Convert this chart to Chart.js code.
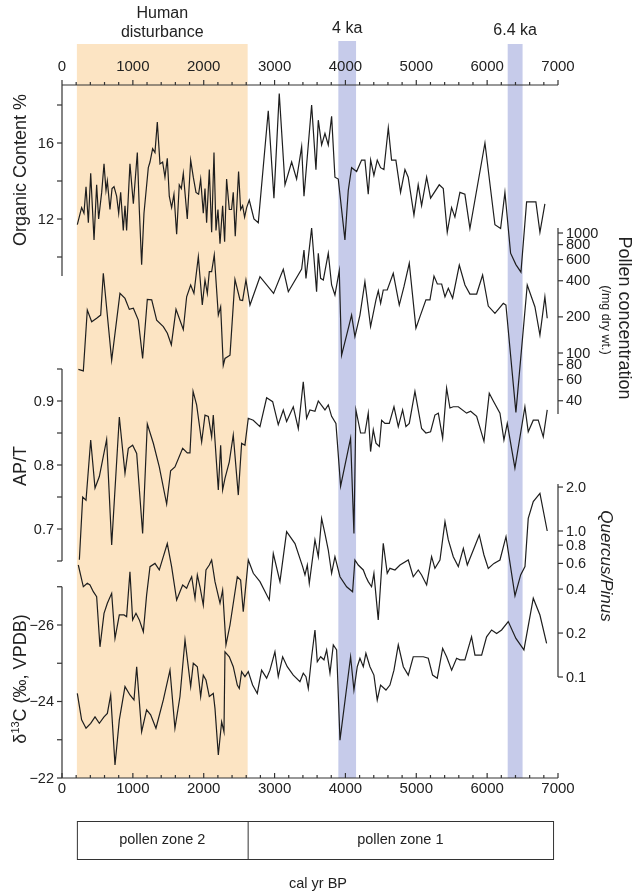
<!DOCTYPE html>
<html><head><meta charset="utf-8">
<script src="https://cdn.jsdelivr.net/npm/chart.js@4.4.1/dist/chart.umd.min.js"></script>
<style>html,body{margin:0;padding:0;background:#fff}canvas{display:block}</style>
</head><body>
<canvas id="c" width="633" height="892"></canvas>
<script>
// ---------------- DATA ----------------
const orgAge = [216,277,310,339,372,405,452,489,517,560,593,621,640,677,706,734,771,800,828,865,889,912,959,1007,1063,1091,1124,1157,1218,1242,1279,1312,1345,1383,1420,1453,1486,1514,1547,1580,1618,1655,1684,1712,1768,1816,1853,1891,1928,1957,1994,2018,2041,2079,2112,2145,2173,2201,2230,2267,2295,2323,2361,2393,2417,2445,2492,2521,2549,2577,2606,2643,2676,2709,2770,2911,2991,3066,3147,3241,3311,3382,3415,3523,3584,3617,3664,3711,3758,3805,3852,3899,3993,4040,4087,4158,4228,4275,4322,4356,4402,4449,4496,4543,4605,4651,4712,4778,4840,4886,4967,5027,5075,5146,5202,5324,5381,5437,5498,5545,5616,5686,5757,5969,6110,6190,6251,6331,6406,6477,6557,6688,6745,6815];
const orgVal = [11.7,12.6,12.3,13.7,11.8,14.4,10.9,13.8,12.0,13.4,14.9,13.5,14.0,12.5,13.6,13.7,13.2,12.3,13.4,11.4,12.7,11.4,14.9,12.8,15.5,12.5,9.6,12.3,14.7,15.0,15.7,15.5,17.1,14.9,15.0,14.2,15.2,13.2,12.6,13.3,11.2,13.8,13.6,14.4,12.0,15.1,14.2,13.4,13.3,14.1,12.3,13.6,11.8,14.6,11.3,15.5,11.4,12.5,10.7,12.7,10.8,14.1,12.5,12.5,13.4,11.1,14.5,12.5,12.7,12.1,12.6,13.0,12.5,12.0,11.8,17.7,13.1,18.6,13.8,15.0,14.1,15.8,13.2,18.0,14.6,17.2,15.9,16.5,15.9,17.4,14.2,14.1,10.9,13.5,14.7,14.5,15.1,15.1,13.3,15.1,14.3,15.1,14.7,14.6,16.8,15.1,15.1,13.4,14.6,14.2,12.2,13.8,12.7,14.2,13.1,13.8,13.6,11.3,12.6,12.1,13.4,13.3,11.5,16.0,11.7,11.5,13.4,10.2,9.6,9.2,12.9,12.9,11.3,12.8];

const polAge = [231,301,357,419,489,546,583,701,818,889,950,1007,1077,1138,1204,1266,1336,1430,1487,1543,1609,1712,1759,1816,1862,1924,1980,2018,2051,2079,2112,2149,2206,2239,2276,2300,2371,2441,2512,2549,2596,2653,2794,2986,3123,3194,3382,3415,3443,3523,3593,3617,3650,3688,3758,3805,3852,3913,3946,4017,4087,4134,4205,4275,4355,4431,4464,4497,4534,4590,4675,4760,4826,4901,4995,5052,5136,5193,5250,5297,5358,5405,5452,5513,5607,5687,5757,5852,5936,6016,6110,6228,6265,6406,6566,6674,6745,6815,6848];
const polVal = [73,71,228,182,195,207,462,87,314,285,231,236,188,90,280,277,188,166,146,117,231,157,294,369,314,635,251,406,314,476,476,656,207,243,79,90,96,411,277,274,406,251,432,314,498,324,500,722,419,1100,324,678,419,406,678,369,304,485,96,141,207,137,207,393,166,277,330,259,335,335,461,251,357,559,161,201,277,277,438,376,376,294,346,286,541,369,310,310,447,246,214,259,251,32,369,243,141,294,195];

const aptAge = [245,292,339,405,466,527,630,701,809,889,936,997,1054,1138,1204,1289,1373,1477,1533,1594,1703,1768,1806,1850,1900,1971,2018,2065,2112,2135,2206,2239,2267,2300,2361,2417,2488,2535,2582,2629,2699,2794,2888,2973,3052,3123,3170,3264,3335,3405,3452,3499,3570,3617,3711,3758,3805,3866,3932,4073,4120,4148,4214,4275,4322,4355,4393,4431,4478,4511,4558,4619,4685,4746,4807,4854,4901,4981,5075,5136,5202,5263,5311,5372,5428,5475,5522,5593,5710,5767,5852,5955,6030,6087,6181,6237,6284,6392,6533,6580,6651,6721,6792,6848];
const aptVal = [0.652,0.750,0.745,0.839,0.764,0.782,0.840,0.675,0.875,0.787,0.826,0.831,0.818,0.693,0.864,0.834,0.797,0.739,0.791,0.797,0.826,0.819,0.819,0.915,0.894,0.836,0.878,0.876,0.844,0.878,0.761,0.831,0.761,0.779,0.805,0.847,0.753,0.834,0.831,0.873,0.870,0.860,0.905,0.899,0.863,0.886,0.868,0.891,0.857,0.930,0.873,0.886,0.884,0.900,0.886,0.894,0.876,0.865,0.767,0.842,0.693,0.886,0.850,0.850,0.881,0.821,0.855,0.834,0.829,0.870,0.865,0.865,0.891,0.860,0.886,0.860,0.865,0.915,0.857,0.850,0.852,0.878,0.881,0.842,0.920,0.889,0.891,0.891,0.881,0.884,0.876,0.837,0.912,0.900,0.881,0.839,0.865,0.795,0.891,0.852,0.870,0.870,0.844,0.886];

const qpAge = [230,301,357,395,442,489,536,593,640,701,748,809,875,912,959,997,1044,1091,1148,1194,1242,1312,1373,1486,1547,1618,1703,1759,1797,1830,1877,1910,1947,1994,2032,2079,2112,2159,2230,2267,2314,2371,2474,2521,2558,2629,2700,2794,2925,2982,3076,3170,3288,3396,3429,3462,3490,3570,3617,3664,3711,3758,3805,3852,3923,4017,4101,4134,4181,4252,4289,4322,4369,4402,4463,4534,4590,4628,4699,4770,4887,4957,5028,5075,5146,5216,5263,5334,5405,5452,5522,5593,5664,5720,5805,5889,5955,6016,6096,6181,6266,6393,6473,6534,6580,6651,6745,6848];
const qpVal = [0.585,0.415,0.438,0.427,0.384,0.355,0.161,0.273,0.32,0.374,0.184,0.266,0.266,0.259,0.526,0.246,0.273,0.246,0.204,0.364,0.57,0.6,0.541,0.82,0.57,0.337,0.427,0.405,0.45,0.486,0.346,0.5,0.415,0.311,0.541,0.585,0.633,0.45,0.32,0.394,0.166,0.227,0.486,0.462,0.28,0.633,0.513,0.45,0.337,0.70,0.45,0.99,0.82,0.57,0.5,0.585,0.438,0.868,0.667,1.22,0.96,0.741,0.513,0.667,0.486,0.415,0.384,0.633,0.585,0.541,0.486,0.45,0.415,0.513,0.246,0.824,0.513,0.555,0.541,0.585,0.633,0.486,0.541,0.5,0.427,0.667,0.555,0.633,1.16,0.868,0.667,0.57,0.76,0.585,0.741,0.94,0.685,0.555,0.6,0.633,0.914,0.36,0.5,0.57,1.22,1.59,1.81,1.0];

const d13Age = [216,277,339,405,466,527,593,640,687,748,809,889,959,1016,1054,1124,1194,1251,1326,1430,1524,1594,1665,1736,1816,1853,1910,1957,1994,2032,2079,2135,2159,2206,2253,2286,2300,2361,2417,2474,2502,2535,2582,2629,2690,2756,2817,2888,2935,3005,3052,3114,3179,3264,3358,3405,3443,3476,3523,3570,3603,3650,3697,3735,3782,3829,3876,3923,4073,4120,4167,4205,4252,4289,4346,4402,4449,4496,4572,4628,4685,4746,4817,4887,4957,5028,5099,5169,5230,5296,5372,5428,5499,5569,5616,5686,5780,5828,5922,5992,6063,6134,6204,6298,6406,6519,6651,6745,6839];
const d13Val = [-24.21,-23.52,-23.3,-23.43,-23.6,-23.43,-23.6,-23.69,-24.17,-22.34,-23.52,-24.39,-24.17,-24.04,-24.91,-23.21,-23.78,-23.65,-23.3,-24.04,-24.82,-23.3,-24.13,-25.61,-24.39,-25.0,-24.91,-24.13,-24.69,-24.56,-24.13,-24.21,-23.82,-22.6,-23.47,-23.21,-25.3,-25.17,-24.91,-24.43,-24.34,-24.78,-24.65,-24.78,-24.43,-24.21,-24.82,-24.61,-24.82,-25.3,-24.65,-25.17,-24.91,-24.69,-24.52,-24.74,-24.65,-24.34,-25.17,-25.87,-25.04,-25.17,-25.09,-25.35,-24.74,-25.48,-25.35,-22.99,-25.17,-24.3,-24.91,-25.13,-24.91,-25.26,-24.91,-24.69,-24.04,-24.43,-24.3,-24.43,-24.82,-25.48,-24.91,-24.69,-25.17,-25.17,-25.17,-25.13,-24.69,-24.61,-25.39,-25.17,-24.82,-25.13,-25.09,-25.09,-25.69,-25.21,-25.21,-25.69,-25.87,-25.78,-25.87,-26.09,-25.65,-25.35,-26.7,-26.26,-25.52];

// tick values / labels
const xTicksMinor = 200, xTicksMajor = 1000, xMin = 0, xMax = 7000;
const orgTicks = [10,12,14,16,18];           const orgLabeled = [12,16];
const aptTicks = [0.65,0.7,0.75,0.8,0.85,0.9,0.95]; const aptLabeled = [0.7,0.8,0.9];
const d13Ticks = [-27,-26,-25,-24,-23,-22];  const d13Labeled = [-26,-24,-22];
const polTicks = [40,60,80,100,200,400,600,800,1000]; const polLabeled = polTicks;
const qpTicks = [0.1,0.2,0.4,0.6,0.8,1.0,2.0]; const qpLabeled = qpTicks;

// shaded periods (cal yr BP)
const disturbance = [210, 2620];
const event4ka = [3900, 4150];
const event64ka = [6290, 6500];
// pollen zones
const zone2 = [210, 2620];
const zone1 = [2620, 6930];

// ---------------- LAYOUT ----------------
const TOP = 85, BOTTOM = 778, LEFT = 62, RIGHT = 558;
const FONT = "'Liberation Sans', Arial, Helvetica, sans-serif";
const INK = '#222';

function linRange(a, b) {
  const s = (b[1] - a[1]) / (b[0] - a[0]);
  return [a[0] + (TOP - a[1]) / s, a[0] + (BOTTOM - a[1]) / s];
}
function logRange(a, b) {
  const r = linRange([Math.log10(a[0]), a[1]], [Math.log10(b[0]), b[1]]);
  return [Math.pow(10, r[0]), Math.pow(10, r[1])];
}
function scaleCfg(type, r) {
  const rev = r[0] < r[1];
  return { type, display: false, bounds: 'data', reverse: rev,
           min: Math.min(r[0], r[1]), max: Math.max(r[0], r[1]) };
}

const scales = {
  x:   { type: 'linear', display: false, min: xMin, max: xMax, bounds: 'data' },
  yOrg: scaleCfg('linear', linRange([12, 219], [16, 143])),
  yPol: scaleCfg('logarithmic', logRange([100, 353], [1000, 233])),
  yApt: scaleCfg('linear', linRange([0.9, 401], [0.7, 529])),
  yQp:  scaleCfg('logarithmic', logRange([0.1, 677], [1, 531])),
  yD13: scaleCfg('linear', linRange([-26, 625], [-22, 778])),
};

function series(ages, vals, axis) {
  return { data: ages.map((a, i) => ({ x: a, y: vals[i] })), yAxisID: axis, xAxisID: 'x',
           borderColor: '#1e1e1e', borderWidth: 1.2, pointRadius: 0, tension: 0, fill: false };
}

const axes = [
  { id: 'yOrg', side: 'left',  lo: 9,    hi: 19.05, ticks: orgTicks, labeled: orgLabeled, fmt: v => String(v) },
  { id: 'yPol', side: 'right', lo: 31,   hi: 1100,  ticks: polTicks, labeled: polLabeled, fmt: v => String(v) },
  { id: 'yApt', side: 'left',  lo: 0.65, hi: 0.95,  ticks: aptTicks, labeled: aptLabeled, fmt: v => v.toFixed(1) },
  { id: 'yQp',  side: 'right', lo: 0.1,  hi: 2.1,   ticks: qpTicks,  labeled: qpLabeled,  fmt: v => v.toFixed(1) },
  { id: 'yD13', side: 'left',  lo: -27,  hi: -22,   ticks: d13Ticks, labeled: d13Labeled, fmt: v => '\u2212' + Math.abs(v) },
];

function rotText(ctx, parts, x, y, ang) {
  // parts: [{t, font, dy}]
  ctx.save();
  ctx.translate(x, y); ctx.rotate(ang);
  let total = 0;
  parts.forEach(p => { ctx.font = p.font; p.w = ctx.measureText(p.t).width; total += p.w; });
  let cx = -total / 2;
  ctx.textAlign = 'left'; ctx.textBaseline = 'middle';
  parts.forEach(p => { ctx.font = p.font; ctx.fillText(p.t, cx, p.dy || 0); cx += p.w; });
  ctx.restore();
}

const decor = {
  id: 'decor',
  beforeDatasetsDraw(chart) {
    const ctx = chart.ctx, xs = chart.scales.x;
    ctx.save();
    const band = (span, top, color) => {
      const a = xs.getPixelForValue(span[0]), b = xs.getPixelForValue(span[1]);
      ctx.fillStyle = color; ctx.fillRect(a, top, b - a, BOTTOM - top);
    };
    band(disturbance, 44, '#fce4c3');
    band(event4ka, 41, '#c6cbea');
    band(event64ka, 44, '#c6cbea');
    ctx.restore();
  },
  afterDatasetsDraw(chart) {
    const ctx = chart.ctx, xs = chart.scales.x;
    ctx.save();
    ctx.strokeStyle = '#333'; ctx.fillStyle = INK; ctx.lineWidth = 1.2;
    const x0 = xs.getPixelForValue(xMin), x1 = xs.getPixelForValue(xMax);
    // top and bottom time axes
    [[TOP, -1, 67], [BOTTOM, -1, 789]].forEach(([y, dir, ly]) => {
      ctx.beginPath(); ctx.moveTo(x0, y); ctx.lineTo(x1, y); ctx.stroke();
      for (let v = xMin; v <= xMax; v += xTicksMinor) {
        const p = xs.getPixelForValue(v);
        const len = v % xTicksMajor === 0 ? 5 : 3;
        ctx.beginPath(); ctx.moveTo(p, y); ctx.lineTo(p, y + dir * len); ctx.stroke();
      }
      ctx.font = '15px ' + FONT; ctx.textAlign = 'center'; ctx.textBaseline = 'middle';
      for (let v = xMin; v <= xMax; v += xTicksMajor) ctx.fillText(String(v), xs.getPixelForValue(v), ly);
    });
    // value axes
    axes.forEach(ax => {
      const s = chart.scales[ax.id];
      const xp = ax.side === 'left' ? x0 : x1;
      const d = ax.side === 'left' ? -1 : 1;
      ctx.beginPath(); ctx.moveTo(xp, s.getPixelForValue(ax.lo)); ctx.lineTo(xp, s.getPixelForValue(ax.hi)); ctx.stroke();
      ctx.font = '14.5px ' + FONT; ctx.textBaseline = 'middle';
      ctx.textAlign = ax.side === 'left' ? 'right' : 'left';
      ax.ticks.forEach(v => {
        const yp = s.getPixelForValue(v);
        ctx.beginPath(); ctx.moveTo(xp, yp); ctx.lineTo(xp + d * 5, yp); ctx.stroke();
        if (ax.labeled.includes(v)) ctx.fillText(ax.fmt(v), xp + d * 8, yp + 0.5);
      });
    });
    // axis titles
    const f18 = '18px ' + FONT;
    rotText(ctx, [{ t: 'Organic Content %', font: f18 }], 21, 170, -Math.PI / 2);
    rotText(ctx, [{ t: 'AP/T', font: f18 }], 21, 466, -Math.PI / 2);
    rotText(ctx, [{ t: '\u03b4', font: f18 }, { t: '13', font: '11px ' + FONT, dy: -5 }, { t: 'C (\u2030, VPDB)', font: f18 }], 21, 679, -Math.PI / 2);
    rotText(ctx, [{ t: 'Pollen concentration', font: f18 }], 624, 318, Math.PI / 2);
    rotText(ctx, [{ t: '(/mg dry wt.)', font: '12.5px ' + FONT }], 605, 320, Math.PI / 2);
    rotText(ctx, [{ t: 'Quercus/Pinus', font: 'italic 17px ' + FONT }], 606, 566, Math.PI / 2);
    // event labels
    ctx.font = '16px ' + FONT; ctx.textAlign = 'center'; ctx.textBaseline = 'middle';
    const mid = s => xs.getPixelForValue((s[0] + s[1]) / 2);
    ctx.fillText('Human', mid(disturbance), 14);
    ctx.fillText('disturbance', mid(disturbance), 33);
    ctx.fillText('4 ka', mid(event4ka), 29);
    ctx.fillText('6.4 ka', mid(event64ka), 31);
    // pollen zone box
    const za = xs.getPixelForValue(zone2[0]), zb = xs.getPixelForValue(zone2[1]), zc = xs.getPixelForValue(zone1[1]);
    const bt = 821, bb = 859;
    ctx.lineWidth = 1;
    ctx.strokeRect(za + 0.5, bt + 0.5, zc - za, bb - bt);
    ctx.beginPath(); ctx.moveTo(zb + 0.5, bt); ctx.lineTo(zb + 0.5, bb); ctx.stroke();
    ctx.font = '14.5px ' + FONT;
    ctx.fillText('pollen zone 2', (za + zb) / 2, (bt + bb) / 2);
    ctx.fillText('pollen zone 1', (zb + zc) / 2, (bt + bb) / 2);
    ctx.fillText('cal yr BP', 318, 884);
    ctx.restore();
  }
};

new Chart(document.getElementById('c'), {
  type: 'line',
  data: { datasets: [
    series(orgAge, orgVal, 'yOrg'),
    series(polAge, polVal, 'yPol'),
    series(aptAge, aptVal, 'yApt'),
    series(qpAge, qpVal, 'yQp'),
    series(d13Age, d13Val, 'yD13'),
  ] },
  options: {
    responsive: false, animation: false, devicePixelRatio: 1,
    layout: { padding: { left: LEFT, right: 633 - RIGHT, top: TOP, bottom: 892 - BOTTOM } },
    plugins: { legend: { display: false }, tooltip: { enabled: false } },
    scales
  },
  plugins: [decor]
});
</script>
</body></html>
